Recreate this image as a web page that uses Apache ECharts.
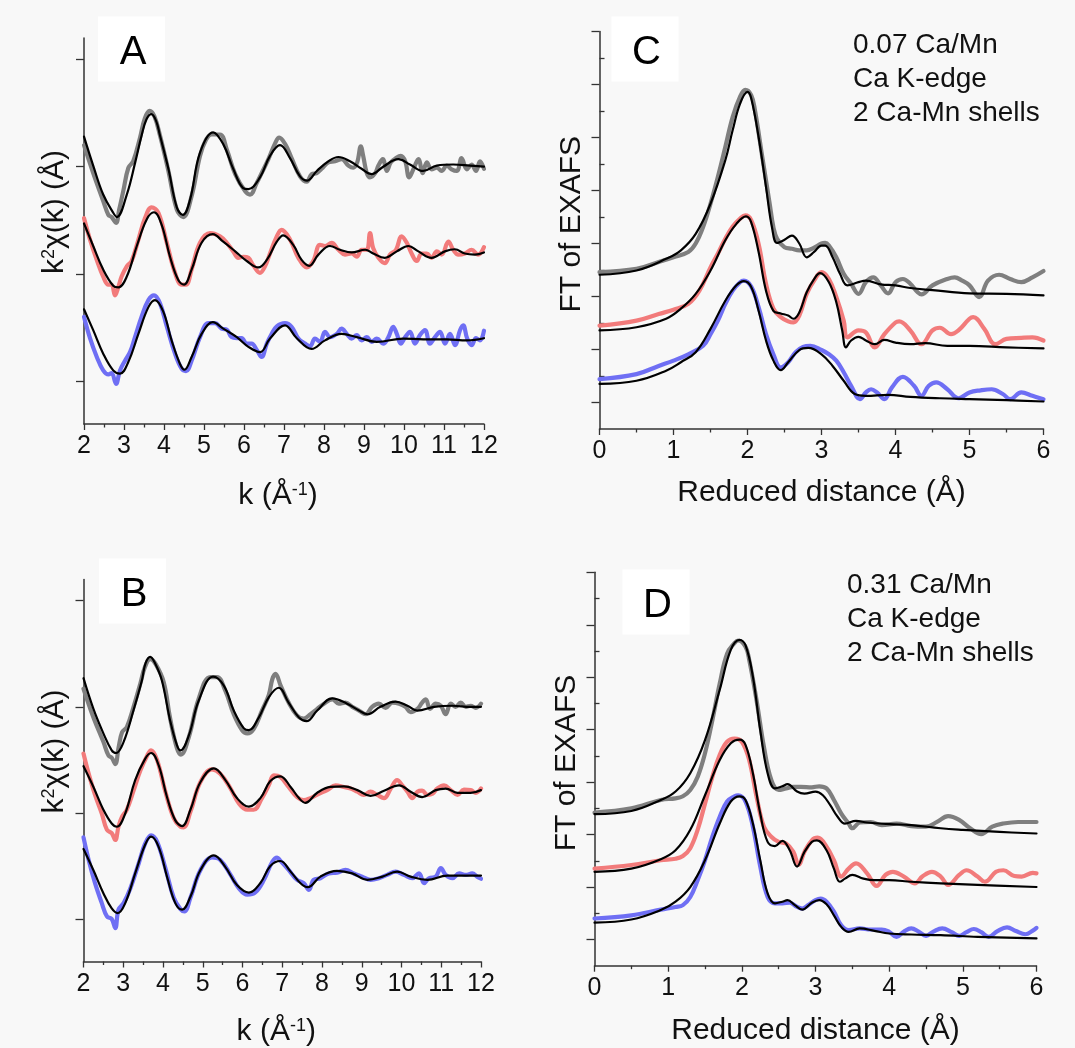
<!DOCTYPE html>
<html><head><meta charset="utf-8">
<script src="https://cdn.jsdelivr.net/npm/echarts@6/dist/echarts.min.js"></script>
<style>html,body{margin:0;padding:0;background:#f8f8f8}#c{width:1075px;height:1048px}</style>
</head><body><div id="c"></div>
<script>
// ---------- tick labels ----------
const kTicks = [2,3,4,5,6,7,8,9,10,11,12];
const rTicks = [0,1,2,3,4,5,6];
const kMajorY = [0,1,2,3];
const rMajorY = [0,1,2,3,4,5,6,7];
const rMinorY = [0.5,1.5,2.5,3.5,4.5,5.5,6.5];

// ---------- Panel A : k^2 chi(k), 0.07 Ca/Mn ----------
const aGray = [[2.0,2.20],[2.23,1.94],[2.48,1.68],[2.61,1.55],[2.69,1.53],[2.80,1.475],[2.88,1.60],[2.98,1.77],[3.11,1.99],[3.23,2.05],[3.40,2.27],[3.52,2.45],[3.64,2.52],[3.76,2.47],[3.90,2.29],[4.11,1.96],[4.32,1.60],[4.48,1.53],[4.69,1.725],[4.90,2.10],[5.05,2.25],[5.19,2.30],[5.40,2.30],[5.57,2.16],[5.78,1.93],[6.03,1.77],[6.15,1.74],[6.32,1.85],[6.44,1.94],[6.61,2.07],[6.78,2.22],[6.88,2.27],[7.03,2.21],[7.19,2.08],[7.40,1.91],[7.57,1.86],[7.69,1.93],[7.82,1.94],[7.94,1.98],[8.11,2.04],[8.28,2.05],[8.44,2.07],[8.61,2.01],[8.73,1.99],[8.83,2.04],[8.92,2.19],[8.98,2.10],[9.07,1.94],[9.15,1.90],[9.28,1.94],[9.36,2.01],[9.47,2.07],[9.57,1.96],[9.67,2.04],[9.80,2.08],[9.92,2.10],[10.03,2.05],[10.13,1.90],[10.25,1.99],[10.36,2.07],[10.47,1.94],[10.57,2.04],[10.69,1.975],[10.82,1.99],[10.94,1.96],[11.07,2.01],[11.19,1.975],[11.32,1.96],[11.44,2.08],[11.57,1.975],[11.69,2.02],[11.80,1.96],[11.90,2.05],[12.0,1.98]];
const aGrayFit = [[2.0,2.28],[2.23,2.01],[2.48,1.74],[2.73,1.57],[2.82,1.53],[3.07,1.74],[3.28,2.04],[3.44,2.29],[3.56,2.44],[3.68,2.49],[3.80,2.43],[3.90,2.29],[4.11,1.98],[4.32,1.62],[4.47,1.55],[4.65,1.69],[4.90,2.13],[5.23,2.32],[5.48,2.21],[5.73,1.98],[5.98,1.80],[6.11,1.79],[6.40,1.90],[6.65,2.10],[6.90,2.20],[7.15,2.08],[7.40,1.91],[7.58,1.87],[7.82,1.96],[8.11,2.05],[8.36,2.09],[8.65,2.05],[8.94,1.98],[9.19,1.93],[9.48,2.00],[9.86,2.07],[10.15,2.02],[10.48,1.96],[10.82,2.01],[11.23,2.02],[11.65,2.01],[12.0,2.00]];
const aRed = [[2.0,1.52],[2.15,1.32],[2.32,1.13],[2.48,0.975],[2.61,0.90],[2.69,0.90],[2.775,0.80],[2.86,0.88],[2.94,0.975],[3.07,1.07],[3.19,1.12],[3.36,1.32],[3.525,1.52],[3.69,1.62],[3.86,1.57],[4.07,1.29],[4.275,1.01],[4.44,0.90],[4.55,0.90],[4.69,1.04],[4.90,1.29],[5.15,1.38],[5.40,1.35],[5.57,1.29],[5.73,1.21],[5.86,1.15],[5.98,1.16],[6.11,1.15],[6.23,1.08],[6.40,1.01],[6.525,1.07],[6.65,1.19],[6.82,1.35],[6.94,1.41],[7.15,1.32],[7.36,1.15],[7.57,1.06],[7.73,1.12],[7.90,1.27],[8.025,1.26],[8.19,1.29],[8.36,1.225],[8.525,1.18],[8.69,1.19],[8.82,1.16],[8.94,1.225],[9.07,1.225],[9.15,1.38],[9.23,1.24],[9.36,1.15],[9.52,1.10],[9.65,1.18],[9.80,1.225],[9.94,1.35],[10.07,1.29],[10.19,1.19],[10.32,1.12],[10.44,1.19],[10.57,1.19],[10.69,1.15],[10.82,1.21],[10.94,1.18],[11.11,1.30],[11.23,1.225],[11.36,1.18],[11.52,1.19],[11.69,1.225],[11.85,1.18],[12.0,1.25]];
const aRedFit = [[2.0,1.47],[2.23,1.26],[2.48,1.04],[2.73,0.89],[2.86,0.875],[3.07,0.975],[3.32,1.26],[3.57,1.51],[3.75,1.575],[3.94,1.46],[4.15,1.16],[4.36,0.94],[4.50,0.90],[4.69,1.04],[4.94,1.29],[5.22,1.37],[5.48,1.30],[5.78,1.21],[6.07,1.12],[6.36,1.06],[6.57,1.13],[6.82,1.30],[6.98,1.36],[7.23,1.27],[7.44,1.13],[7.63,1.075],[7.86,1.18],[8.15,1.26],[8.40,1.225],[8.69,1.20],[9.03,1.225],[9.23,1.19],[9.52,1.15],[9.82,1.21],[10.11,1.26],[10.36,1.21],[10.69,1.15],[11.02,1.21],[11.27,1.23],[11.52,1.19],[11.77,1.18],[12.0,1.20]];
const aBlue = [[2.0,0.60],[2.15,0.40],[2.32,0.225],[2.48,0.10],[2.61,0.0625],[2.69,0.075],[2.80,-0.025],[2.90,0.10],[3.025,0.19],[3.15,0.27],[3.275,0.41],[3.44,0.60],[3.61,0.756],[3.75,0.80],[3.90,0.725],[4.07,0.51],[4.275,0.256],[4.44,0.116],[4.55,0.094],[4.69,0.19],[4.90,0.41],[5.11,0.54],[5.275,0.54],[5.44,0.49],[5.57,0.48],[5.69,0.41],[5.82,0.40],[5.94,0.40],[6.07,0.35],[6.19,0.35],[6.32,0.29],[6.44,0.225],[6.57,0.35],[6.69,0.44],[6.82,0.51],[7.025,0.54],[7.19,0.506],[7.36,0.397],[7.525,0.35],[7.65,0.325],[7.775,0.397],[7.90,0.366],[8.025,0.46],[8.15,0.41],[8.32,0.44],[8.44,0.49],[8.57,0.44],[8.69,0.397],[8.82,0.43],[8.94,0.38],[9.07,0.41],[9.19,0.366],[9.32,0.397],[9.48,0.35],[9.61,0.41],[9.73,0.506],[9.82,0.44],[9.92,0.35],[10.03,0.41],[10.15,0.46],[10.275,0.35],[10.40,0.43],[10.525,0.475],[10.65,0.35],[10.775,0.41],[10.90,0.46],[11.025,0.35],[11.15,0.44],[11.275,0.335],[11.40,0.475],[11.48,0.52],[11.58,0.397],[11.69,0.335],[11.80,0.40],[11.90,0.38],[12.0,0.47]];
const aBlueFit = [[2.0,0.67],[2.23,0.475],[2.48,0.256],[2.73,0.10],[2.90,0.07],[3.11,0.18],[3.36,0.44],[3.61,0.69],[3.775,0.756],[3.98,0.65],[4.19,0.38],[4.40,0.16],[4.51,0.106],[4.69,0.225],[4.94,0.44],[5.22,0.55],[5.48,0.49],[5.82,0.41],[6.11,0.32],[6.40,0.27],[6.65,0.397],[7.025,0.52],[7.32,0.40],[7.69,0.30],[8.025,0.38],[8.44,0.44],[8.82,0.41],[9.32,0.366],[9.98,0.397],[10.48,0.39],[11.07,0.39],[11.57,0.38],[12.0,0.40]];

// ---------- Panel B : k^2 chi(k), 0.31 Ca/Mn ----------
const bGray = [[2.0,2.17],[2.25,1.90],[2.50,1.67],[2.63,1.54],[2.71,1.52],[2.80,1.46],[2.88,1.61],[2.97,1.76],[3.09,1.81],[3.26,2.00],[3.43,2.22],[3.55,2.38],[3.68,2.45],[3.82,2.40],[4.02,2.23],[4.18,1.89],[4.35,1.61],[4.45,1.55],[4.65,1.715],[4.90,2.08],[5.19,2.28],[5.36,2.28],[5.57,2.15],[5.78,1.93],[5.99,1.78],[6.12,1.75],[6.28,1.79],[6.49,1.965],[6.66,2.11],[6.75,2.26],[6.83,2.31],[6.96,2.20],[7.16,2.04],[7.37,1.92],[7.54,1.89],[7.71,1.93],[7.88,1.98],[8.05,2.03],[8.26,2.07],[8.42,2.03],[8.59,2.04],[8.76,2.00],[8.93,1.965],[9.10,1.93],[9.26,2.00],[9.43,2.03],[9.60,1.99],[9.77,2.04],[9.94,2.03],[10.10,2.00],[10.23,1.95],[10.40,1.98],[10.52,2.04],[10.61,2.07],[10.72,1.98],[10.86,2.03],[10.99,2.01],[11.11,1.93],[11.24,2.03],[11.36,2.00],[11.49,2.04],[11.62,2.00],[11.74,2.01],[11.87,1.99],[12.0,2.03]];
const bGrayFit = [[2.0,2.27],[2.25,1.98],[2.50,1.75],[2.71,1.59],[2.82,1.565],[3.01,1.67],[3.26,1.97],[3.47,2.25],[3.56,2.41],[3.68,2.47],[3.80,2.41],[3.97,2.25],[4.18,1.87],[4.35,1.64],[4.44,1.59],[4.65,1.73],[4.90,2.06],[5.26,2.285],[5.53,2.20],[5.78,1.965],[6.03,1.80],[6.16,1.78],[6.41,1.90],[6.66,2.09],[6.91,2.18],[7.16,2.04],[7.42,1.90],[7.61,1.865],[7.88,1.965],[8.26,2.08],[8.63,2.03],[8.93,1.965],[9.14,1.93],[9.47,2.00],[9.85,2.05],[10.15,2.01],[10.40,1.965],[10.82,2.00],[11.28,2.01],[11.74,2.00],[12.0,2.00]];
const bRed = [[2.0,1.56],[2.13,1.37],[2.29,1.17],[2.46,0.995],[2.59,0.84],[2.71,0.81],[2.80,0.745],[2.88,0.87],[2.97,0.964],[3.09,1.03],[3.26,1.21],[3.43,1.40],[3.60,1.54],[3.70,1.59],[3.85,1.50],[4.06,1.20],[4.27,0.95],[4.44,0.87],[4.52,0.864],[4.69,1.01],[4.94,1.29],[5.23,1.41],[5.44,1.37],[5.70,1.23],[5.91,1.09],[6.12,1.03],[6.28,1.03],[6.49,1.14],[6.66,1.26],[6.79,1.355],[6.95,1.34],[7.16,1.245],[7.37,1.15],[7.54,1.12],[7.71,1.14],[7.92,1.18],[8.13,1.215],[8.34,1.26],[8.55,1.245],[8.72,1.23],[8.89,1.20],[9.05,1.17],[9.22,1.20],[9.39,1.17],[9.56,1.14],[9.73,1.23],[9.89,1.31],[10.02,1.26],[10.15,1.20],[10.27,1.14],[10.40,1.20],[10.52,1.21],[10.65,1.17],[10.78,1.18],[10.90,1.23],[11.07,1.26],[11.24,1.215],[11.41,1.17],[11.57,1.22],[11.74,1.215],[11.87,1.19],[12.0,1.23]];
const bRedFit = [[2.0,1.44],[2.25,1.245],[2.50,1.03],[2.71,0.90],[2.84,0.87],[3.05,0.995],[3.30,1.31],[3.55,1.51],[3.70,1.565],[3.89,1.45],[4.10,1.15],[4.31,0.93],[4.48,0.876],[4.69,1.03],[4.94,1.29],[5.28,1.42],[5.57,1.31],[5.86,1.14],[6.16,1.06],[6.45,1.14],[6.70,1.30],[6.95,1.345],[7.21,1.245],[7.42,1.14],[7.58,1.095],[7.88,1.19],[8.21,1.245],[8.55,1.25],[8.89,1.215],[9.22,1.16],[9.56,1.21],[9.94,1.26],[10.23,1.20],[10.52,1.15],[10.86,1.215],[11.11,1.23],[11.41,1.19],[11.74,1.19],[12.0,1.215]];
const bBlue = [[2.0,0.77],[2.13,0.557],[2.29,0.338],[2.46,0.15],[2.59,0.025],[2.71,0.0],[2.80,-0.085],[2.88,0.088],[3.01,0.15],[3.18,0.29],[3.39,0.526],[3.55,0.71],[3.70,0.79],[3.85,0.73],[4.06,0.48],[4.27,0.20],[4.44,0.094],[4.54,0.072],[4.69,0.20],[4.94,0.46],[5.23,0.58],[5.44,0.557],[5.70,0.416],[5.91,0.29],[6.12,0.23],[6.32,0.25],[6.54,0.37],[6.75,0.54],[6.87,0.58],[6.95,0.55],[7.16,0.463],[7.37,0.37],[7.54,0.338],[7.67,0.275],[7.79,0.37],[7.96,0.385],[8.17,0.43],[8.38,0.438],[8.59,0.463],[8.80,0.43],[9.01,0.40],[9.22,0.37],[9.43,0.385],[9.64,0.416],[9.85,0.447],[10.06,0.416],[10.27,0.385],[10.44,0.43],[10.57,0.338],[10.69,0.385],[10.86,0.40],[10.99,0.48],[11.11,0.416],[11.28,0.385],[11.45,0.43],[11.62,0.416],[11.78,0.43],[11.90,0.40],[12.0,0.38]];
const bBlueFit = [[2.0,0.66],[2.25,0.46],[2.50,0.244],[2.71,0.10],[2.86,0.056],[3.05,0.15],[3.30,0.43],[3.55,0.70],[3.70,0.776],[3.89,0.68],[4.10,0.40],[4.31,0.15],[4.48,0.088],[4.69,0.21],[4.94,0.46],[5.28,0.60],[5.57,0.49],[5.86,0.32],[6.16,0.25],[6.45,0.34],[6.70,0.50],[6.95,0.547],[7.21,0.447],[7.46,0.338],[7.64,0.30],[7.96,0.40],[8.38,0.454],[8.76,0.43],[9.14,0.37],[9.52,0.40],[9.89,0.447],[10.23,0.40],[10.65,0.37],[11.15,0.41],[11.74,0.41],[12.0,0.41]];

// ---------- Panel C : FT, 0.07 Ca/Mn ----------
const cGray = [[0,2.46],[0.5,2.52],[0.8,2.65],[1.0,2.74],[1.2,2.84],[1.3,3.0],[1.4,3.31],[1.5,3.75],[1.6,4.26],[1.7,4.82],[1.8,5.39],[1.9,5.77],[1.97,5.90],[2.05,5.80],[2.1,5.52],[2.2,4.63],[2.3,3.75],[2.35,3.31],[2.4,3.09],[2.5,2.93],[2.6,2.90],[2.7,2.87],[2.8,2.87],[2.9,2.92],[3.0,3.0],[3.05,3.01],[3.1,2.96],[3.2,2.74],[3.3,2.43],[3.4,2.24],[3.5,2.05],[3.6,2.27],[3.7,2.36],[3.8,2.21],[3.9,2.06],[4.0,2.27],[4.1,2.33],[4.2,2.24],[4.3,2.08],[4.35,2.04],[4.5,2.21],[4.7,2.33],[4.8,2.36],[4.9,2.30],[5.0,2.21],[5.13,1.99],[5.25,2.30],[5.4,2.41],[5.55,2.33],[5.7,2.27],[5.85,2.36],[6.0,2.48]];
const cGrayFit = [[0,2.41],[0.5,2.49],[0.9,2.71],[1.1,2.87],[1.3,3.18],[1.5,3.75],[1.7,4.57],[1.8,5.14],[1.9,5.64],[2.0,5.86],[2.05,5.74],[2.15,5.01],[2.25,4.07],[2.33,3.31],[2.4,3.01],[2.5,3.07],[2.6,3.15],[2.7,3.0],[2.8,2.74],[2.9,2.84],[3.0,2.96],[3.05,2.96],[3.15,2.74],[3.25,2.43],[3.35,2.21],[3.5,2.27],[3.6,2.30],[3.8,2.23],[4.0,2.21],[4.2,2.16],[4.5,2.12],[5.0,2.06],[5.5,2.05],[6.0,2.02]];
const cRed = [[0,1.45],[0.5,1.545],[0.8,1.67],[1.0,1.75],[1.2,1.86],[1.35,2.11],[1.5,2.55],[1.6,2.81],[1.7,3.09],[1.8,3.32],[1.9,3.47],[1.97,3.53],[2.05,3.44],[2.15,2.99],[2.25,2.24],[2.35,1.77],[2.45,1.61],[2.55,1.53],[2.62,1.51],[2.7,1.64],[2.8,2.05],[2.9,2.30],[3.0,2.46],[3.1,2.33],[3.2,1.99],[3.3,1.545],[3.35,1.23],[3.5,1.36],[3.6,1.32],[3.72,1.04],[3.85,1.29],[4.0,1.51],[4.05,1.53],[4.2,1.36],[4.35,1.10],[4.5,1.36],[4.6,1.41],[4.75,1.29],[4.85,1.36],[5.0,1.58],[5.05,1.61],[5.2,1.39],[5.35,1.10],[5.5,1.20],[5.7,1.22],[5.85,1.23],[6.0,1.17]];
const cRedFit = [[0,1.36],[0.5,1.42],[0.9,1.58],[1.1,1.77],[1.3,2.05],[1.5,2.49],[1.7,3.06],[1.85,3.37],[1.98,3.51],[2.05,3.40],[2.15,2.84],[2.25,2.11],[2.35,1.73],[2.45,1.68],[2.55,1.64],[2.62,1.58],[2.7,1.70],[2.8,2.08],[2.9,2.33],[2.98,2.44],[3.1,2.27],[3.2,1.89],[3.28,1.36],[3.33,1.04],[3.4,1.17],[3.5,1.24],[3.6,1.17],[3.72,1.10],[3.85,1.18],[4.0,1.13],[4.2,1.10],[4.4,1.12],[4.7,1.07],[5.0,1.07],[5.5,1.04],[6.0,1.02]];
const cBlue = [[0,0.44],[0.5,0.536],[0.8,0.69],[1.0,0.79],[1.2,0.91],[1.4,1.07],[1.5,1.29],[1.6,1.545],[1.7,1.86],[1.8,2.11],[1.9,2.27],[1.95,2.30],[2.05,2.19],[2.15,1.80],[2.25,1.29],[2.35,0.91],[2.45,0.66],[2.55,0.76],[2.65,0.95],[2.75,1.05],[2.85,1.07],[3.0,0.99],[3.1,0.91],[3.2,0.79],[3.3,0.57],[3.4,0.315],[3.52,0.063],[3.6,0.19],[3.67,0.25],[3.75,0.19],[3.85,0.063],[3.95,0.28],[4.1,0.485],[4.25,0.315],[4.35,0.126],[4.45,0.315],[4.55,0.38],[4.7,0.25],[4.85,0.08],[5.0,0.19],[5.15,0.23],[5.3,0.25],[5.45,0.16],[5.55,0.063],[5.7,0.19],[5.85,0.126],[6.0,0.063]];
const cBlueFit = [[0,0.35],[0.5,0.41],[0.9,0.60],[1.1,0.76],[1.3,0.95],[1.5,1.39],[1.7,1.92],[1.85,2.21],[1.95,2.29],[2.05,2.18],[2.15,1.73],[2.25,1.17],[2.35,0.79],[2.45,0.61],[2.55,0.76],[2.7,0.99],[2.82,1.03],[3.0,0.91],[3.15,0.69],[3.3,0.41],[3.45,0.16],[3.6,0.126],[3.9,0.145],[4.2,0.107],[4.6,0.08],[5.0,0.063],[5.5,0.044],[6.0,0.019]];

// ---------- Panel D : FT, 0.31 Ca/Mn ----------
const dGray = [[0,2.42],[0.5,2.50],[0.9,2.66],[1.1,2.69],[1.2,2.73],[1.3,2.85],[1.4,3.10],[1.5,3.55],[1.6,4.18],[1.7,4.88],[1.8,5.45],[1.9,5.65],[1.95,5.70],[2.05,5.58],[2.1,5.33],[2.2,4.56],[2.3,3.67],[2.4,3.04],[2.5,2.85],[2.6,2.88],[2.7,2.91],[2.8,2.91],[2.95,2.90],[3.05,2.92],[3.15,2.88],[3.25,2.66],[3.35,2.40],[3.45,2.21],[3.5,2.12],[3.6,2.23],[3.75,2.24],[3.9,2.18],[4.1,2.21],[4.3,2.16],[4.5,2.15],[4.65,2.24],[4.8,2.35],[4.95,2.28],[5.1,2.12],[5.25,2.01],[5.4,2.15],[5.55,2.21],[5.75,2.24],[6.0,2.24]];
const dGrayFit = [[0,2.39],[0.5,2.45],[0.9,2.66],[1.1,2.82],[1.3,3.17],[1.5,3.80],[1.7,4.76],[1.85,5.52],[1.97,5.71],[2.05,5.61],[2.15,5.01],[2.25,3.99],[2.35,3.17],[2.45,2.88],[2.55,2.92],[2.62,2.96],[2.75,2.82],[2.85,2.78],[3.0,2.82],[3.1,2.75],[3.2,2.56],[3.3,2.34],[3.4,2.21],[3.55,2.26],[3.7,2.23],[4.0,2.20],[4.3,2.18],[4.7,2.12],[5.0,2.09],[5.5,2.05],[6.0,2.02]];
const dRed = [[0,1.35],[0.5,1.42],[0.9,1.51],[1.1,1.54],[1.2,1.59],[1.3,1.74],[1.4,2.09],[1.5,2.59],[1.6,3.10],[1.7,3.52],[1.8,3.77],[1.9,3.83],[2.0,3.77],[2.1,3.42],[2.2,2.72],[2.3,2.15],[2.4,1.96],[2.5,1.86],[2.6,1.83],[2.7,1.67],[2.77,1.42],[2.85,1.67],[2.95,1.89],[3.03,1.94],[3.15,1.77],[3.25,1.51],[3.35,1.20],[3.45,1.35],[3.55,1.45],[3.7,1.26],[3.83,1.02],[3.95,1.23],[4.05,1.29],[4.2,1.20],[4.35,1.07],[4.45,1.20],[4.58,1.29],[4.7,1.20],[4.8,1.04],[4.95,1.23],[5.05,1.32],[5.2,1.20],[5.3,1.10],[5.45,1.29],[5.55,1.32],[5.7,1.21],[5.8,1.20],[5.95,1.27],[6.0,1.26]];
const dRedFit = [[0,1.29],[0.5,1.35],[0.9,1.53],[1.1,1.70],[1.3,2.09],[1.5,2.75],[1.7,3.42],[1.85,3.74],[1.97,3.81],[2.05,3.71],[2.15,3.17],[2.25,2.40],[2.35,1.86],[2.45,1.78],[2.55,1.88],[2.65,1.70],[2.75,1.39],[2.85,1.67],[2.95,1.86],[3.02,1.89],[3.15,1.70],[3.25,1.35],[3.33,1.10],[3.4,1.16],[3.5,1.23],[3.65,1.16],[3.8,1.13],[4.0,1.13],[4.3,1.10],[4.7,1.07],[5.2,1.04],[6.0,1.00]];
const dBlue = [[0,0.40],[0.5,0.46],[0.9,0.57],[1.1,0.62],[1.2,0.655],[1.3,0.81],[1.4,1.13],[1.5,1.51],[1.6,1.96],[1.7,2.34],[1.8,2.63],[1.9,2.73],[1.95,2.75],[2.05,2.63],[2.15,2.15],[2.25,1.39],[2.35,0.81],[2.45,0.69],[2.55,0.69],[2.65,0.70],[2.75,0.62],[2.82,0.59],[2.9,0.655],[3.0,0.75],[3.07,0.78],[3.15,0.72],[3.25,0.53],[3.35,0.27],[3.45,0.18],[3.6,0.21],[3.75,0.19],[3.9,0.19],[4.0,0.146],[4.1,0.05],[4.2,0.15],[4.3,0.21],[4.4,0.15],[4.5,0.07],[4.6,0.15],[4.72,0.21],[4.85,0.14],[4.95,0.07],[5.05,0.14],[5.15,0.20],[5.25,0.14],[5.35,0.05],[5.47,0.16],[5.6,0.23],[5.72,0.16],[5.85,0.10],[5.95,0.17],[6.0,0.22]];
const dBlueFit = [[0,0.32],[0.5,0.38],[0.9,0.56],[1.1,0.72],[1.3,1.00],[1.5,1.51],[1.7,2.21],[1.85,2.63],[1.97,2.73],[2.05,2.66],[2.15,2.21],[2.25,1.51],[2.35,0.88],[2.45,0.69],[2.55,0.72],[2.62,0.75],[2.72,0.655],[2.82,0.57],[2.95,0.70],[3.05,0.75],[3.15,0.67],[3.25,0.46],[3.35,0.24],[3.45,0.146],[3.6,0.21],[3.8,0.165],[4.0,0.114],[4.3,0.095],[4.7,0.083],[5.2,0.05],[6.0,0.02]];

// ---------- texts ----------
const panelLetters = ['A','C','B','D'];
const notesC = ['0.07 Ca/Mn','Ca K-edge','2 Ca-Mn shells'];
const notesD = ['0.31 Ca/Mn','Ca K-edge','2 Ca-Mn shells'];

// ---------- styling ----------
const FONT = 'Liberation Sans';
const GRAY = '#7f7f7f', RED = '#f27b7b', BLUE = '#6f6ff4', BLACK = '#000';
const AX = '#333';

const chart = echarts.init(document.getElementById('c'), null, {renderer:'canvas'});

const grids = [
  {left:84, top:38, width:400, height:386},        // A
  {left:599.5, top:31.5, width:444, height:397.5}, // C
  {left:83.5, top:579.5, width:397.5, height:382.5}, // B
  {left:594.5, top:572.3, width:442, height:393.4}  // D
];

const NAMEFS = 30;
const TICKFS = 25;
const supStyle = {fontSize:18, fontFamily:FONT, color:'#111', verticalAlign:'top'};

function xAx(gi, isK, name, gap) {
  return {
    type:'value', gridIndex:gi, min:isK?2:0, max:isK?12:6, interval:1,
    axisLine:{show:true, onZero:false, lineStyle:{color:AX, width:1.5}},
    axisTick:{show:true, inside:false, length:6, lineStyle:{color:AX, width:1.3}},
    minorTick:{show:true, splitNumber:2, length:3.5, lineStyle:{color:AX, width:1.3}},
    splitLine:{show:false}, minorSplitLine:{show:false},
    axisLabel:{show:true, margin:10, fontSize:TICKFS, fontFamily:FONT, color:'#111'},
    name:name, nameLocation:'middle', nameGap:gap,
    nameTextStyle:{fontSize:NAMEFS, fontFamily:FONT, color:'#111', padding:isK?[0,12,0,0]:0, rich:{sup:supStyle}}
  };
}
function yAx(gi, isK, name, gap, shift) {
  return {
    type:'value', gridIndex:gi, min:isK?-0.4:-0.5, max:isK?3.2:7,
    axisLine:{show:true, onZero:false, lineStyle:{color:AX, width:1.5}},
    axisTick:{show:true, inside:false, length:8, customValues:isK?kMajorY:rMajorY, lineStyle:{color:AX, width:1.3}},
    splitLine:{show:false},
    axisLabel:{show:false},
    name:name, nameLocation:'middle', nameGap:gap,
    nameTextStyle:{fontSize:NAMEFS, fontFamily:FONT, color:'#111', padding:[0,0,0,shift], rich:{sup:supStyle}}
  };
}
function yMinor(gi) {
  return {
    type:'value', gridIndex:gi, min:-0.5, max:7,
    axisLine:{show:false}, splitLine:{show:false}, axisLabel:{show:false},
    axisTick:{show:true, inside:false, length:5, customValues:rMinorY, lineStyle:{color:AX, width:1.3}}
  };
}

const xAxis = [
  xAx(0, true, 'k (Å{sup|-1})', 57),
  xAx(1, false, 'Reduced distance (Å)', 49),
  xAx(2, true, 'k (Å{sup|-1})', 55.5),
  xAx(3, false, 'Reduced distance (Å)', 50)
];
const yAxis = [
  yAx(0, true, 'k{sup|2}χ(k) (Å)', 14, 38),   // 0 A
  yAx(1, false, 'FT of EXAFS', 12.5, 12),     // 1 C
  yMinor(1),                                   // 2 C minor
  yAx(2, true, 'k{sup|2}χ(k) (Å)', 13.5, 38), // 3 B
  yAx(3, false, 'FT of EXAFS', 12.5, 12),     // 4 D
  yMinor(3)                                    // 5 D minor
];

function ln(data, color, width, xi, yi, z) {
  return {type:'line', data:data, xAxisIndex:xi, yAxisIndex:yi, showSymbol:false, symbol:'none',
    smooth:0.4, z:z, silent:true, animation:false,
    lineStyle:{color:color, width:width, cap:'round', join:'round'}};
}
const DW = 4.2, FW = 2.2;
const series = [
  ln(aGray,GRAY,DW,0,0,2), ln(aRed,RED,DW,0,0,2), ln(aBlue,BLUE,DW,0,0,2),
  ln(aGrayFit,BLACK,FW,0,0,3), ln(aRedFit,BLACK,FW,0,0,3), ln(aBlueFit,BLACK,FW,0,0,3),
  ln(cGray,GRAY,DW,1,1,2), ln(cRed,RED,DW,1,1,2), ln(cBlue,BLUE,DW,1,1,2),
  ln(cGrayFit,BLACK,FW,1,1,3), ln(cRedFit,BLACK,FW,1,1,3), ln(cBlueFit,BLACK,FW,1,1,3),
  ln(bGray,GRAY,DW,2,3,2), ln(bRed,RED,DW,2,3,2), ln(bBlue,BLUE,DW,2,3,2),
  ln(bGrayFit,BLACK,FW,2,3,3), ln(bRedFit,BLACK,FW,2,3,3), ln(bBlueFit,BLACK,FW,2,3,3),
  ln(dGray,GRAY,DW,3,4,2), ln(dRed,RED,DW,3,4,2), ln(dBlue,BLUE,DW,3,4,2),
  ln(dGrayFit,BLACK,FW,3,4,3), ln(dRedFit,BLACK,FW,3,4,3), ln(dBlueFit,BLACK,FW,3,4,3)
];

// letter positions (centers) and white label boxes
const letterPos = [[133,52.5],[646.5,52.5],[134,594.5],[657.5,605.5]];
const graphic = [];
letterPos.forEach(function(p,i){
  graphic.push({type:'rect', shape:{x:p[0]-35, y:p[1]-36, width:67, height:65}, style:{fill:'#ffffff'}, z:0, silent:true});
  graphic.push({type:'text', x:p[0], y:p[1], z:10, silent:true,
    style:{text:panelLetters[i], fontSize:40, fontFamily:FONT, fill:'#000', align:'center', verticalAlign:'middle'}});
});
notesC.forEach(function(t,i){
  graphic.push({type:'text', x:853, y:45+i*34, z:10, silent:true,
    style:{text:t, fontSize:28, fontFamily:FONT, fill:'#111', align:'left', verticalAlign:'middle'}});
});
notesD.forEach(function(t,i){
  graphic.push({type:'text', x:847, y:585+i*34, z:10, silent:true,
    style:{text:t, fontSize:28, fontFamily:FONT, fill:'#111', align:'left', verticalAlign:'middle'}});
});

chart.setOption({
  backgroundColor:'#f8f8f8',
  animation:false,
  textStyle:{fontFamily:FONT},
  grid:grids,
  xAxis:xAxis,
  yAxis:yAxis,
  series:series,
  graphic:graphic
});
</script>
</body></html>
